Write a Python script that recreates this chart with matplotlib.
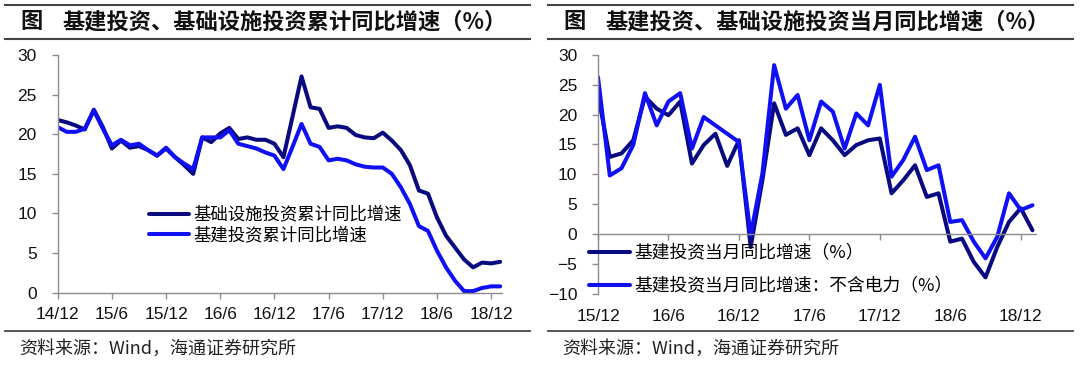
import matplotlib
matplotlib.use('Agg')
import matplotlib.pyplot as plt
from matplotlib.lines import Line2D

plt.rcParams['font.family'] = ['Liberation Sans', 'Noto Sans CJK SC', 'DejaVu Sans']
CJK = ['Noto Sans CJK SC', 'DejaVu Sans']

# ---- data ----
left_ticks = ['14/12', '15/6', '15/12', '16/6', '16/12', '17/6', '17/12', '18/6', '18/12']
infra_cum = [21.8, 21.5, 21.1, 20.6, 23.1, 20.9, 18.2, 19.2, 18.3, 18.5,
             18.0, 17.3, 18.2, 17.1, 16.1, 15.0, 19.6, 19.0, 20.1, 20.8,
             19.4, 19.6, 19.3, 19.3, 18.8, 17.1, 22.2, 27.3, 23.4, 23.2,
             20.8, 21.0, 20.8, 19.9, 19.6, 19.5, 20.2, 19.2, 18.0, 16.1,
             12.9, 12.5, 9.5, 7.2, 5.7, 4.2, 3.2, 3.8, 3.7, 3.9]
jijian_cum = [20.9, 20.3, 20.3, 20.7, 23.0, 20.7, 18.6, 19.3, 18.6, 18.8,
              18.0, 17.3, 18.3, 17.1, 16.3, 15.6, 19.6, 19.6, 19.6, 20.5,
              18.8, 18.5, 18.2, 17.7, 17.3, 15.6, 18.4, 21.3, 18.8, 18.4,
              16.7, 16.9, 16.7, 16.2, 15.9, 15.8, 15.8, 15.0, 13.3, 11.2,
              8.4, 7.8, 5.3, 3.2, 1.5, 0.2, 0.2, 0.6, 0.8, 0.8]

right_ticks = ['15/12', '16/6', '16/12', '17/6', '17/12', '18/6', '18/12']
jijian_month = [23.3, 12.9, 13.5, 15.7, 23.0, 21.0, 19.9, 22.2, 11.8, 14.9,
                16.8, 11.4, 15.7, -2.2, 9.0, 21.9, 16.6, 17.7, 13.2, 17.7,
                15.7, 13.2, 14.9, 15.7, 16.0, 6.8, 9.0, 11.5, 6.2, 6.8,
                -1.3, -0.8, -4.7, -7.3, -2.2, 2.0, 4.3, 0.6]
jijian_month_ex = [26.3, 9.8, 11.0, 14.9, 23.6, 18.2, 22.2, 23.6, 14.3, 19.6,
                   18.2, 16.8, 15.4, -0.2, 10.1, 28.3, 21.0, 23.3, 15.7, 22.2,
                   20.5, 14.3, 20.2, 18.2, 25.0, 9.6, 12.4, 16.3, 10.7, 11.5,
                   2.0, 2.3, -1.3, -4.1, -0.5, 6.8, 4.0, 4.8]

DARK = '#0a0a80'
BLUE = '#1010f5'
GRAY = '#8c8c8c'
LW = 2.9

W, H = 1080, 365
fig = plt.figure(figsize=(W / 100, H / 100), dpi=100)


def box(x0, y_top, x1, y_bot):
    return [x0 / W, 1 - y_bot / H, (x1 - x0) / W, (y_bot - y_top) / H]


def hline(x0, x1, y, lw=1.3):
    fig.add_artist(Line2D([x0 / W, x1 / W], [1 - y / H, 1 - y / H],
                          transform=fig.transFigure, color='#444444', lw=lw))


def style_axes(ax):
    for s in ['top', 'right']:
        ax.spines[s].set_visible(False)
    for s in ['left', 'bottom']:
        ax.spines[s].set_color(GRAY)
        ax.spines[s].set_linewidth(1.0)
    ax.tick_params(axis='both', colors=GRAY, labelcolor='#111111',
                   labelsize=12.5, length=4, width=1.0, direction='out')
    ax.tick_params(axis='y', pad=11)


# ---------- left panel ----------
ax1 = fig.add_axes(box(57.7, 55, 502, 292.7))
style_axes(ax1)
x1 = list(range(len(infra_cum)))
ax1.plot(x1, infra_cum, color=DARK, lw=LW, solid_joinstyle='round',
         solid_capstyle='round', label='基础设施投资累计同比增速')
ax1.plot(x1, jijian_cum, color=BLUE, lw=LW, solid_joinstyle='round',
         solid_capstyle='round', label='基建投资累计同比增速')
ax1.set_xlim(0, 49.2)
ax1.set_ylim(0, 30)
ax1.set_yticks(range(0, 31, 5))
ax1.set_xticks(range(0, 49, 6))
ax1.set_xticklabels(left_ticks)
ax1.tick_params(axis='x', pad=6)
leg1 = ax1.legend(loc='center left', bbox_to_anchor=(0.205, 0.285), frameon=False,
                  prop={'family': CJK, 'size': 12.5}, handlelength=2.3,
                  handletextpad=0.25, labelspacing=0.15, borderpad=0, borderaxespad=0)

# ---------- right panel ----------
ax2 = fig.add_axes(box(598, 55, 1036, 293.5))
style_axes(ax2)
x2 = list(range(len(jijian_month)))
ax2.plot(x2, jijian_month, color=DARK, lw=LW, solid_joinstyle='round',
         solid_capstyle='round', label='基建投资当月同比增速（%）')
ax2.plot(x2, jijian_month_ex, color=BLUE, lw=LW, solid_joinstyle='round',
         solid_capstyle='round', label='基建投资当月同比增速：不含电力（%）')
ax2.set_xlim(0, 37.3)
ax2.set_ylim(-10, 30)
ax2.set_yticks(range(-10, 31, 5))
ax2.set_xticks(range(0, 37, 6))
ax2.set_xticklabels(right_ticks)
ax2.spines['bottom'].set_position(('data', 0))
ax2.tick_params(axis='x', pad=50)
leg2 = ax2.legend(loc='center left', bbox_to_anchor=(-0.02, 0.10), frameon=False,
                  prop={'family': CJK, 'size': 12.8}, handlelength=2.3,
                  handletextpad=0.25, labelspacing=0.85, borderpad=0, borderaxespad=0)

# ---------- titles, rules, sources ----------
for off, title in [(0, '基建投资、基础设施投资累计同比增速（%）'),
                   (543, '基建投资、基础设施投资当月同比增速（%）')]:
    hline(5 + off, 530 + off, 4.5, lw=1.5)
    hline(5 + off, 530 + off, 39.3, lw=1.5)
    hline(5 + off, 530 + off, 331, lw=1.3)
    fig.text((20 + off) / W, 1 - 22 / H, '图', family=CJK, fontsize=16,
             fontweight='bold', ha='left', va='center', color='#111111')
    fig.text((62 + off) / W, 1 - 22 / H, title, family=CJK, fontsize=16,
             fontweight='bold', ha='left', va='center', color='#111111')
    fig.text((19 + off) / W, 1 - 349 / H, '资料来源：Wind，海通证券研究所',
             family=CJK, fontsize=13, ha='left', va='center', color='#222222')

fig.savefig('out.png', dpi=100)
